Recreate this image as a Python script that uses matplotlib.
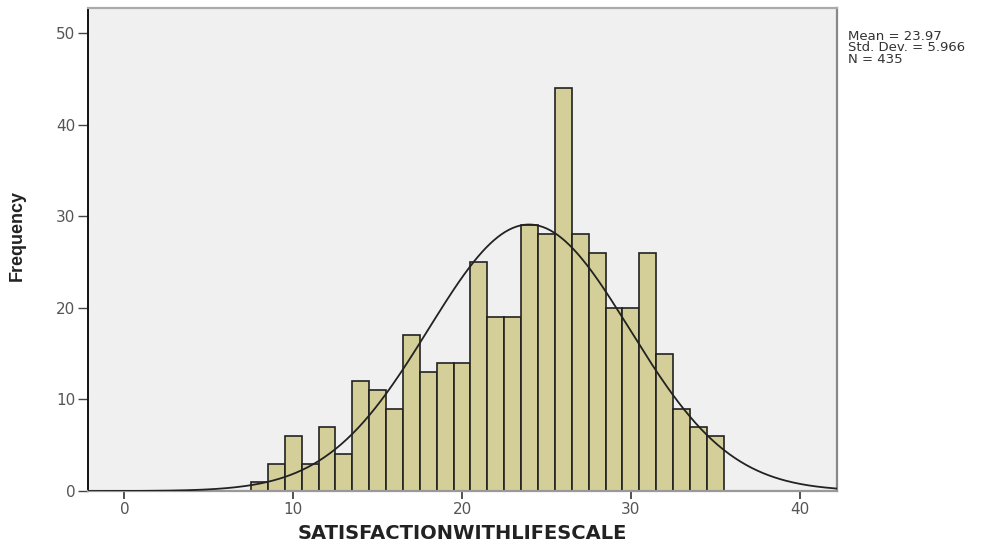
import numpy as np
import matplotlib.pyplot as plt

# histogram of scores, bin width 1, bins centred on integers
scores = [8, 9, 10, 11, 12, 13, 14, 15, 16, 17, 18, 19, 20, 21,
          22, 23, 24, 25, 26, 27, 28, 29, 30, 31, 32, 33, 34, 35]
counts = [1, 3, 6, 3, 7, 4, 12, 11, 9, 17, 13, 14, 14, 25,
          19, 19, 29, 28, 44, 28, 26, 20, 20, 26, 15, 9, 7, 6]
mean = 23.97
std_dev = 5.966
n_total = 435
x_ticks = [0, 10, 20, 30, 40]
y_ticks = [0, 10, 20, 30, 40, 50]

fig = plt.figure(figsize=(10.01, 5.42), dpi=100)
ax = fig.add_axes([0.088, 0.094, 0.748, 0.891])
ax.set_facecolor('#f0f0f0')

ax.bar(scores, counts, width=1.0, color='#d4cf98', edgecolor='#222222',
       linewidth=1.2, zorder=2)

# fitted normal curve
xs = np.linspace(-2.2, 42.3, 400)
curve = n_total * 1.0 / (std_dev * np.sqrt(2 * np.pi)) * \
    np.exp(-0.5 * ((xs - mean) / std_dev) ** 2)
ax.plot(xs, curve, color='#222222', linewidth=1.3, zorder=3)

ax.set_xlim(-2.15, 42.2)
ax.set_ylim(0, 52.7)
ax.set_xticks(x_ticks)
ax.set_yticks(y_ticks)
ax.tick_params(axis='x', direction='out', length=6, width=1.2,
               color='#333333', labelcolor='#555555', labelsize=11, pad=2)
ax.tick_params(axis='y', direction='out', length=7, width=1.0,
               color='#444444', labelcolor='#555555', labelsize=11, pad=2)

ax.spines['left'].set_color('#111111')
ax.spines['left'].set_linewidth(1.4)
ax.spines['bottom'].set_color('#999999')
ax.spines['bottom'].set_linewidth(1.6)
ax.spines['top'].set_color('#aaaaaa')
ax.spines['top'].set_linewidth(1.6)
ax.spines['right'].set_color('#888888')
ax.spines['right'].set_linewidth(1.6)

ax.set_xlabel('SATISFACTIONWITHLIFESCALE', fontsize=14, fontweight='bold',
              color='#222222', labelpad=5)
ax.set_ylabel('Frequency', fontsize=13, fontweight='bold', color='#222222',
              family=['Liberation Sans Narrow', 'Liberation Sans', 'DejaVu Sans'])
ax.yaxis.set_label_coords(-0.083, 0.53)

fig.text(0.847, 0.945, 'Mean = 23.97\nStd. Dev. = 5.966\nN = 435',
         fontsize=9.5, color='#333333', va='top', ha='left', linespacing=0.85)

plt.savefig('out.png', dpi=100, facecolor='white')
